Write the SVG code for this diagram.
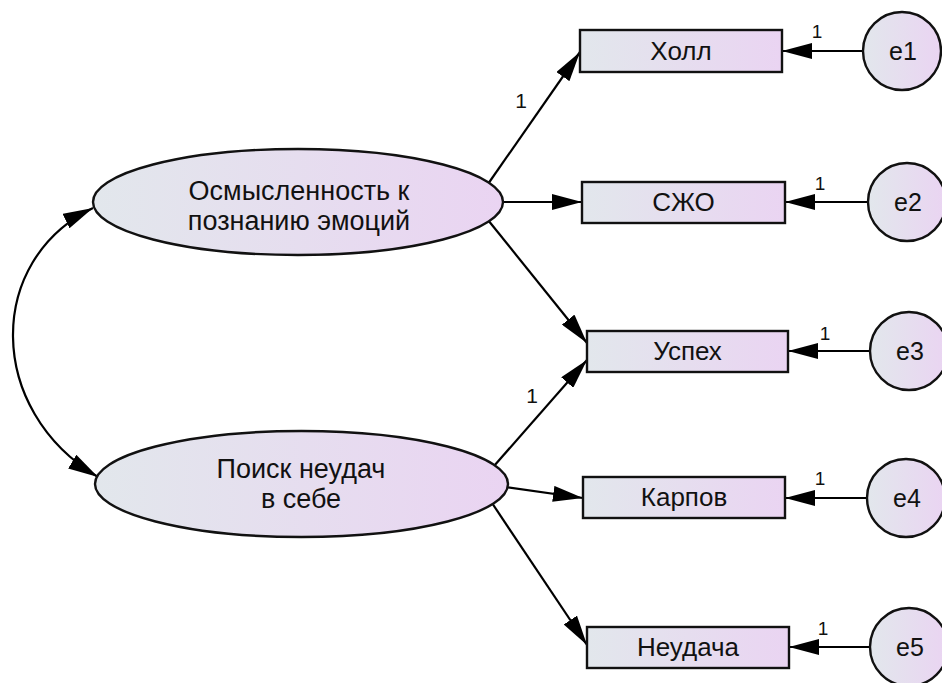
<svg xmlns="http://www.w3.org/2000/svg" width="942" height="683" viewBox="0 0 942 683">
<defs>
<linearGradient id="fill" x1="0" y1="0" x2="1" y2="0">
<stop offset="0" stop-color="#e2e7ec"/>
<stop offset="1" stop-color="#ead4f2"/>
</linearGradient>
<marker id="ah" markerUnits="userSpaceOnUse" markerWidth="30" markerHeight="16" viewBox="0 0 30 16" refX="30" refY="8" orient="auto-start-reverse">
<path d="M0,0 L30,8 L0,16 Z" fill="#000"/>
</marker>
</defs>
<style>
.node{fill:url(#fill);stroke:#111;stroke-width:2.4}
.lbl{font-family:"Liberation Sans",Arial,sans-serif;fill:#111;text-anchor:middle}
.big{font-size:26px}
.lat{font-size:27px}
.err{font-size:25px}
.w{font-size:21px}
.ew{font-size:19px}
.con{fill:none;stroke:#000;stroke-width:2.2;marker-end:url(#ah)}
</style>
<rect width="942" height="683" fill="#fff"/>
<g id="connectors">
<path class="con" d="M93,208 C-14.5,260 -14.5,410 98,477" marker-start="url(#ah)"/>
<line class="con" x1="488" y1="184" x2="580" y2="52"/>
<line class="con" x1="500" y1="202" x2="582" y2="202"/>
<line class="con" x1="488" y1="220" x2="587" y2="343"/>
<line class="con" x1="494" y1="466" x2="587" y2="360"/>
<line class="con" x1="505" y1="487" x2="583" y2="498"/>
<line class="con" x1="492" y1="503" x2="587" y2="645"/>
<line class="con" x1="863" y1="51" x2="782" y2="51"/>
<line class="con" x1="868" y1="202" x2="785" y2="202"/>
<line class="con" x1="870" y1="351" x2="788" y2="351"/>
<line class="con" x1="867" y1="498" x2="785" y2="498"/>
<line class="con" x1="870" y1="647" x2="789" y2="647"/>
<text class="lbl w" x="521" y="108">1</text>
<text class="lbl w" x="532" y="403">1</text>
<text class="lbl ew" x="817" y="38">1</text>
<text class="lbl ew" x="820" y="190">1</text>
<text class="lbl ew" x="825" y="340">1</text>
<text class="lbl ew" x="820" y="485">1</text>
<text class="lbl ew" x="823" y="635">1</text>
</g>
<g id="F1">
<ellipse class="node" cx="298" cy="202" rx="205" ry="53"/>
<text class="lbl lat" x="299" y="200">Осмысленность к</text>
<text class="lbl lat" x="299" y="230">познанию эмоций</text>
</g>
<g id="F2">
<ellipse class="node" cx="301.5" cy="484" rx="206.5" ry="53"/>
<text class="lbl lat" x="301" y="478">Поиск неудач</text>
<text class="lbl lat" x="301" y="508">в себе</text>
</g>
<g id="holl">
<rect class="node" x="580" y="30" width="202" height="42"/>
<text class="lbl big" x="681" y="60">Холл</text>
</g>
<g id="szho">
<rect class="node" x="582" y="182" width="203" height="41"/>
<text class="lbl big" x="683.5" y="211">СЖО</text>
</g>
<g id="uspeh">
<rect class="node" x="587" y="331" width="201" height="41"/>
<text class="lbl big" x="687.5" y="360">Успех</text>
</g>
<g id="karpov">
<rect class="node" x="583" y="477" width="202" height="41"/>
<text class="lbl big" x="684" y="506">Карпов</text>
</g>
<g id="neudacha">
<rect class="node" x="587" y="627" width="202" height="41"/>
<text class="lbl big" x="688" y="656">Неудача</text>
</g>
<g id="e1">
<circle class="node" cx="902" cy="51" r="39"/>
<text class="lbl err" x="903" y="60">e1</text>
</g>
<g id="e2">
<circle class="node" cx="907" cy="202" r="39"/>
<text class="lbl err" x="908" y="211">e2</text>
</g>
<g id="e3">
<circle class="node" cx="909" cy="351" r="39"/>
<text class="lbl err" x="910" y="360">e3</text>
</g>
<g id="e4">
<circle class="node" cx="906" cy="498" r="39"/>
<text class="lbl err" x="907" y="507">e4</text>
</g>
<g id="e5">
<circle class="node" cx="909" cy="647" r="39"/>
<text class="lbl err" x="910" y="656">e5</text>
</g>
</svg>
